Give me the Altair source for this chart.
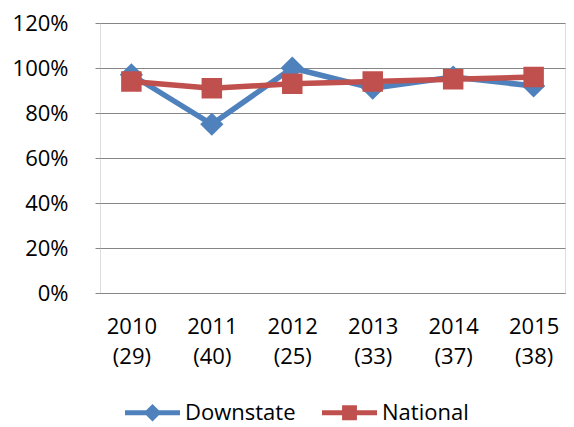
import altair as alt
import pandas as pd

years = ["2010", "2011", "2012", "2013", "2014", "2015"]
counts = [29, 40, 25, 33, 37, 38]
downstate = [0.97, 0.75, 1.00, 0.91, 0.96, 0.92]
national = [0.94, 0.91, 0.93, 0.94, 0.95, 0.96]
series_names = ["Downstate", "National"]
colors = ["#4F81BD", "#C0504D"]
y_ticks = [0, 0.2, 0.4, 0.6, 0.8, 1.0, 1.2]

labels = [f"{y} ({c})" for y, c in zip(years, counts)]
rows = []
for i, lab in enumerate(labels):
    rows.append({"label": lab, "series": "Downstate", "value": downstate[i]})
    rows.append({"label": lab, "series": "National", "value": national[i]})
df = pd.DataFrame(rows)

FONT = "Open Sans"

x_enc = alt.X(
    "label:N", sort=labels,
    scale=alt.Scale(type="point", padding=0.39),
    axis=alt.Axis(title=None, labelAngle=0, labelExpr="split(datum.label, ' ')",
                  labelFont=FONT, labelFontSize=22, labelColor="black",
                  labelPadding=23, labelLineHeight=30, ticks=False,
                  domain=True, domainColor="#868686", domainWidth=1, grid=False),
)
y_enc = alt.Y(
    "value:Q", scale=alt.Scale(domain=[0, 1.2]),
    axis=alt.Axis(title=None, format=".0%", values=y_ticks, labelFont=FONT,
                  labelFontSize=22, labelColor="black", tickSize=5,
                  tickColor="#868686", domain=False, gridColor="#868686",
                  gridWidth=1, labelPadding=27),
)

layers = []
for s, col, shp, sz in zip(series_names, colors, ["diamond", "square"], [540, 420]):
    base = alt.Chart(df).transform_filter(alt.datum.series == s)
    line = base.mark_line(strokeWidth=5.5, color=col).encode(x=x_enc, y=y_enc)
    pts = base.mark_point(filled=True, opacity=1, size=sz, shape=shp, color=col).encode(
        x=x_enc, y=y_enc)
    layers += [line, pts]

diamond_path = "M-1,-0.09 H1 V0.09 H-1 Z M0,-0.32 L0.32,0 L0,0.32 L-0.32,0 Z"
square_path = "M-1,-0.09 H1 V0.09 H-1 Z M-0.27,-0.27 H0.27 V0.27 H-0.27 Z"

leg = dict(title=None, orient="none", direction="horizontal",
           legendX=25, legendY=362, symbolSize=3025,
           symbolStrokeWidth=0, labelFont=FONT,
           labelFontSize=22, labelColor="black",
           labelOffset=5, columnPadding=26, symbolOpacity=1)

legend_layer = alt.Chart(df).transform_filter("datum.value < -1").mark_point(
    filled=True, opacity=1
).encode(
    x=x_enc, y=y_enc,
    color=alt.Color("series:N", scale=alt.Scale(domain=series_names, range=colors),
                    legend=alt.Legend(**leg)),
    shape=alt.Shape("series:N", scale=alt.Scale(domain=series_names,
                                                range=[diamond_path, square_path]),
                    legend=alt.Legend(**leg)),
)

chart = alt.layer(*layers, legend_layer).properties(
    width=465, height=270,
    padding={"left": 92, "top": 15, "right": 1, "bottom": 134},
    autosize="none",
).configure_view(stroke=None).configure(background="white")

chart.save("out.html", embed_options={"renderer": "svg", "actions": False})
